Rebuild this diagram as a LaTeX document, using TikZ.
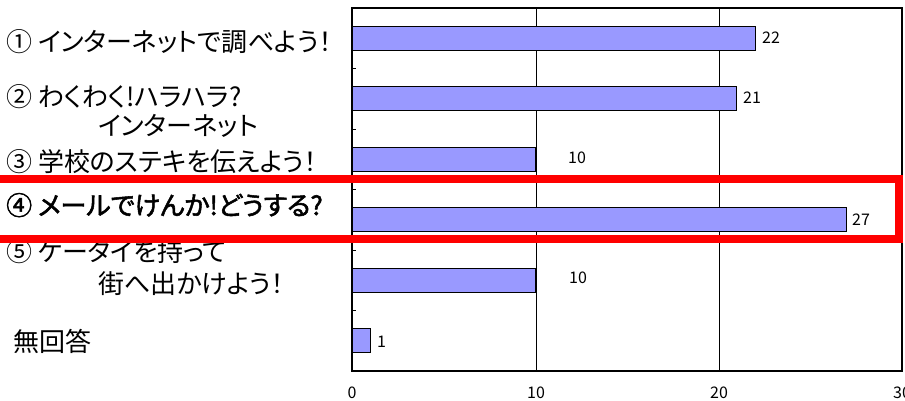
\documentclass[tikz,border=0pt]{standalone}
\usepackage{fontspec}
\setmainfont{Noto Sans CJK JP}[RawFeature=+palt]
\newfontfamily\semib{Noto Sans CJK JP}[RawFeature=+palt,FakeBold=2]
\newfontfamily\numfont{Noto Sans CJK JP}
\definecolor{barblue}{HTML}{9999FF}
\definecolor{hired}{HTML}{FF0000}
\begin{document}
\begin{tikzpicture}[x=1pt,y=-1pt,
  cat/.style={anchor=base west,inner sep=0pt,font=\fontsize{26}{30}\selectfont},
  val/.style={inner sep=0pt,font=\numfont\fontsize{16}{18}\selectfont},
  bar/.style={fill=barblue,draw=black,line width=1pt},
  gridl/.style={draw=black,line width=1pt},
  hl/.style={draw=hired,line width=8pt}]
\useasboundingbox (0,0) rectangle (905,400);
% plot frame and grid
\coordinate (tl) at (352,8);
\coordinate (br) at (902,371);
\draw[gridl] (536,8) -- (536,371);
\draw[gridl] (719,8) -- (719,371);
% bars
\def\u{18.33}
\foreach \v/\k in {22/0,21/1,10/2,27/3,10/4,1/5}{
  \pgfmathsetmacro{\yc}{8+60.5*(\k+0.5)}
  \draw[bar] (352,\yc-12) rectangle ({352+\v*\u},\yc+12);
}
\draw[line width=1.3pt] (tl) rectangle (br);
% ticks
\foreach \k in {1,...,5}{
  \draw[line width=1pt] (352,8+60.5*\k) -- (356,8+60.5*\k);
}
% value labels
\node[val,anchor=west] (v1) at (762,38) {22};
\node[val,anchor=west] (v2) at (743,98) {21};
\node[val] (v3) at (577,157.5) {10};
\node[val,anchor=west] (v4) at (852,219.5) {27};
\node[val] (v5) at (578,277.5) {10};
\node[val,anchor=west] (v6) at (377,341.5) {1};
% axis labels
\node[val] (x0) at (352,393) {0};
\node[val] (x10) at (536,393) {10};
\node[val] (x20) at (719,393) {20};
\node[val] (x30) at (902,393) {30};
% category labels
\node[cat] (c1) at (6,51.5) {① インターネットで調べよう！};
\node[cat] (c2) at (6,106.5) {② わくわく!ハラハラ?};
\node[cat] (c2b) at (98,135) {インターネット};
\node[cat] (c3) at (6,171.5) {③ 学校のステキを伝えよう！};
\node[cat,font=\semib\fontsize{26}{30}\selectfont] (c4) at (6,215) {④ メールでけんか!どうする?};
\node[cat] (c5) at (6,261.5) {⑤ ケータイを持って};
\node[cat] (c5b) at (98,293) {街へ出かけよう！};
\node[cat] (c6) at (13,351.5) {無回答};
% highlight box
\draw[hl] (-10,178.5) rectangle (899,238.5);
\end{tikzpicture}
\end{document}
